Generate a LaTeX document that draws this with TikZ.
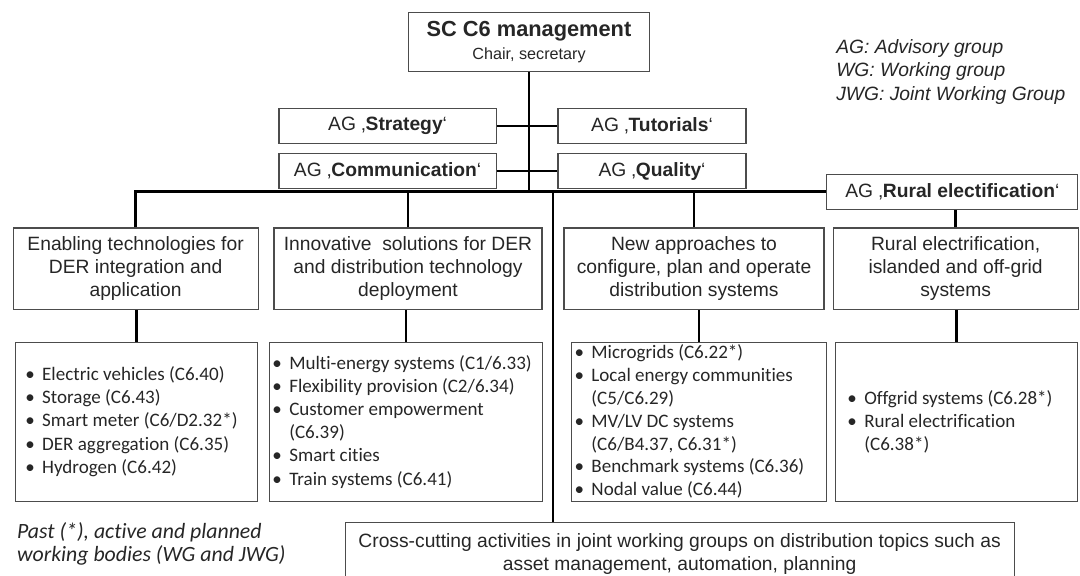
\documentclass[tikz,border=0pt]{standalone}
\usepackage{fontspec}
\setmainfont{Liberation Sans}
\newfontfamily\calibrifont{Carlito}[Ligatures=NoCommon]
\usepackage{tikz}
\usetikzlibrary{positioning}

% bullet line with hanging indent
\newcommand{\wgitem}[1]{\noindent\hangindent=12pt\hangafter=1\makebox[12pt][l]{\textbullet}#1\par}

\begin{document}
\begin{tikzpicture}[
    box/.style={rectangle, draw=black!70, line width=0.8pt, text=black!85, align=center, font=\fontsize{13.7pt}{16.4pt}\selectfont},
    agbox/.style={box, minimum height=0.875cm, inner sep=1pt},
    headbox/.style={box, minimum height=2.04cm},
    listbox/.style={box, align=flush left, minimum height=3.975cm, font={\calibrifont\fontsize{13.55pt}{16.5pt}\selectfont}},
    link/.style={line width=1.6pt}
]
\useasboundingbox (0,0) rectangle (27,-14.375);
\clip (0,0) rectangle (27,-14.375);

% Management and advisory groups
\node[box, minimum width=6.03cm, minimum height=1.475cm] (mgmt) at (13.225,-1.04) {{\fontsize{15.5pt}{18pt}\selectfont\bfseries SC C6 management}\\{\fontsize{11.5pt}{13pt}\selectfont Chair, secretary}};
\node[agbox, minimum width=5.43cm] (strategy) at (9.69,-3.15) {AG ‚\textbf{Strategy}‘};
\node[agbox, minimum width=4.7cm] (tutorials) at (16.3,-3.15) {AG ‚\textbf{Tutorials}‘};
\node[agbox, minimum width=5.43cm, below=0.225cm of strategy] (communication) {AG ‚\textbf{Communication}‘};
\node[agbox, minimum width=4.7cm, below=0.225cm of tutorials] (quality) {AG ‚\textbf{Quality}‘};
\node[agbox, minimum width=6.275cm] (rural) at (23.81,-4.79) {AG ‚\textbf{Rural electification}‘};

% Legend
\node[anchor=west, inner sep=0, align=left, text=black!85, font=\fontsize{13.7pt}{16.6pt}\selectfont\itshape] (legend) at (20.9,-1.8) {AG: Advisory group\\WG: Working group\\JWG: Joint Working Group};

% Topic columns
\node[headbox, minimum width=6.125cm] (h1) at (3.39,-6.72) {Enabling technologies for\\DER integration and\\application};
\node[headbox, minimum width=6.7cm] (h2) at (10.2,-6.72) {Innovative~ solutions for DER\\and distribution technology\\deployment};
\node[headbox, minimum width=6.5cm] (h3) at (17.35,-6.72) {New approaches to\\configure, plan and operate\\distribution systems};
\node[headbox, minimum width=6.125cm] (h4) at (23.89,-6.72) {Rural electrification,\\islanded and off-grid\\systems};

% Working bodies
\node[listbox, inner xsep=7pt, text width=158pt] (l1) at (3.41,-10.54) {%
  \wgitem{Electric vehicles (C6.40)}
  \wgitem{Storage (C6.43)}
  \wgitem{Smart meter (C6/D2.32*)}
  \wgitem{DER aggregation (C6.35)}
  \wgitem{Hydrogen (C6.42)}};
\node[listbox, inner xsep=2pt, text width=190pt] (l2) at (10.15,-10.54) {%
  \wgitem{Multi-energy systems (C1/6.33)}
  \wgitem{Flexibility provision (C2/6.34)}
  \wgitem{Customer empowerment\newline(C6.39)}
  \wgitem{Smart cities}
  \wgitem{Train systems (C6.41)}};
\node[listbox, inner xsep=2pt, inner ysep=0pt, text width=177pt, font={\calibrifont\fontsize{13.55pt}{16.2pt}\selectfont}] (l3) at (17.475,-10.54) {%
  \wgitem{Microgrids (C6.22*)}
  \wgitem{Local energy communities\newline(C5/C6.29)}
  \wgitem{MV/LV DC systems\newline(C6/B4.37, C6.31*)}
  \wgitem{Benchmark systems (C6.36)}
  \wgitem{Nodal value (C6.44)}};
\node[listbox, inner xsep=8.5pt, text width=155pt] (l4) at (23.91,-10.54) {%
  \wgitem{Offgrid systems (C6.28*)}
  \wgitem{Rural electrification\newline(C6.38*)}};

% Cross-cutting and note
\node[box, minimum width=16.725cm, minimum height=1.575cm] (cross) at (16.99,-13.84) {Cross-cutting activities in joint working groups on distribution topics such as\\asset management, automation, planning};
\node[anchor=west, inner sep=0, align=left, text=black!85, font={\calibrifont\fontsize{15.5pt}{16.8pt}\selectfont\itshape}] (note) at (0.42,-13.6) {Past (*), active and planned\\working bodies (WG and JWG)};

% Connectors
\coordinate (xcut) at (13.825,0);
\draw[link] (mgmt.south) -- (mgmt.south |- rural.west);
\draw[link] (strategy) -- (tutorials);
\draw[link] (communication) -- (quality);
\draw[link] (h1.north) |- (rural.west);
\draw[link] (h2.north) -- (h2.north |- rural.west);
\draw[link] (h3.north) -- (h3.north |- rural.west);
\draw[link] (h4.north) -- (h4.north |- rural.south);
\draw[link] (cross.north -| xcut) -- (xcut |- rural.west);
\draw[link] (l1.north) -- (l1.north |- h1.south);
\draw[link] (l2.north) -- (l2.north |- h2.south);
\draw[link] (l3.north) -- (l3.north |- h3.south);
\draw[link] (l4.north) -- (l4.north |- h4.south);

\end{tikzpicture}
\end{document}
